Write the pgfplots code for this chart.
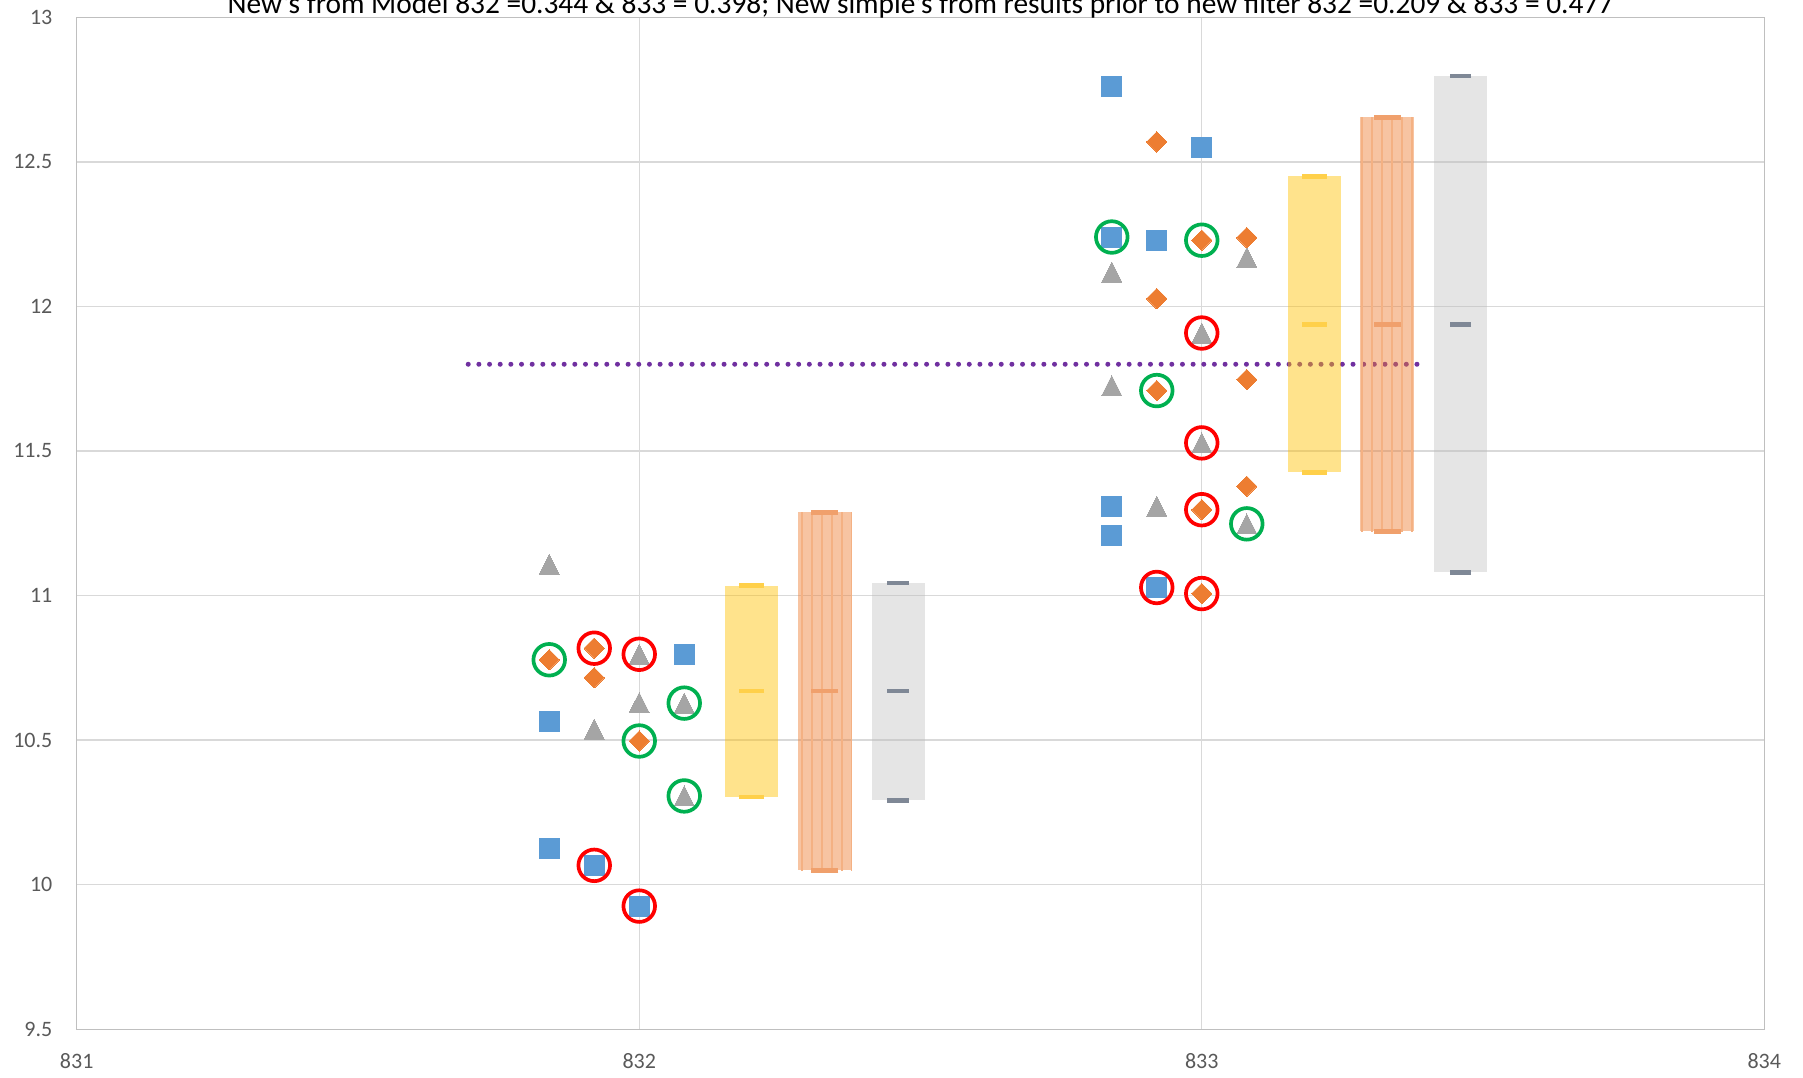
\documentclass[border=0pt]{standalone}
\usepackage{pgfplots}
\pgfplotsset{compat=1.18}
\usetikzlibrary{patterns.meta}
\usepackage{fontspec}
\setmainfont{Carlito}
\definecolor{sqblue}{HTML}{5B9BD5}
\definecolor{dmorange}{HTML}{ED7D31}
\definecolor{trgray}{HTML}{A5A5A5}
\definecolor{ringgreen}{HTML}{00B050}
\definecolor{ringred}{HTML}{FF0000}
\definecolor{dotpurple}{HTML}{7030A0}
\definecolor{barY}{HTML}{FFC000}
\definecolor{barO}{HTML}{ED7D31}
\definecolor{barG}{HTML}{BDBDBD}
\definecolor{capY}{HTML}{FFD04A}
\definecolor{capO}{HTML}{F0A06C}
\definecolor{capG}{HTML}{7F8896}
\definecolor{axisgray}{HTML}{BFBFBF}
\definecolor{gridgray}{HTML}{D9D9D9}
\definecolor{ticktext}{HTML}{595959}
\begin{document}
\begin{tikzpicture}
\begin{axis}[
  scale only axis, width=843.8pt, height=506pt,
  xmin=831, xmax=834, ymin=9.5, ymax=13,
  xtick={831,832,833,834},
  ytick={9.5,10,10.5,11,11.5,12,12.5,13},
  major tick length=0pt,
  grid=major,
  major grid style={draw=gridgray, line width=0.65pt},
  axis line style={draw=axisgray, line width=0.65pt},
  tick label style={font=\fontsize{11}{13}\selectfont, text=ticktext},
  /pgf/number format/assume math mode=true,
  xticklabel style={anchor=north, inner sep=0pt, yshift=-12pt},
  yticklabel style={anchor=east, inner sep=0pt, xshift=-12pt},
  clip=false,
]
% dotted reference line
\addplot[draw=dotpurple, line width=2.5pt, line cap=round, dash pattern=on 0pt off 5.33pt] coordinates {(831.696,11.8) (833.39,11.8)};
% floating bars
\addplot[draw=none, fill=barY, fill opacity=0.45] coordinates {(832.153,10.303) (832.247,10.303) (832.247,11.034) (832.153,11.034)};
\addplot[draw=none, fill=barO, fill opacity=0.45] coordinates {(832.282,10.050) (832.378,10.050) (832.378,11.288) (832.282,11.288)};
\addplot[draw=none, pattern={Lines[angle=90, distance=5pt, line width=0.6pt, xshift=1pt]}, pattern color=barO!60] coordinates {(832.282,10.050) (832.378,10.050) (832.378,11.288) (832.282,11.288)};
\addplot[draw=none, fill=barG, fill opacity=0.40] coordinates {(832.413,10.292) (832.508,10.292) (832.508,11.043) (832.413,11.043)};
\addplot[draw=none, fill=barY, fill opacity=0.45] coordinates {(833.153,11.426) (833.248,11.426) (833.248,12.450) (833.153,12.450)};
\addplot[draw=none, fill=barO, fill opacity=0.45] coordinates {(833.282,11.222) (833.377,11.222) (833.377,12.654) (833.282,12.654)};
\addplot[draw=none, pattern={Lines[angle=90, distance=5pt, line width=0.6pt, xshift=1pt]}, pattern color=barO!60] coordinates {(833.282,11.222) (833.377,11.222) (833.377,12.654) (833.282,12.654)};
\addplot[draw=none, fill=barG, fill opacity=0.40] coordinates {(833.412,11.080) (833.507,11.080) (833.507,12.797) (833.412,12.797)};
% caps
\addplot[only marks, mark=-, mark size=6.15pt, mark options={line width=2.3pt, draw=capY}] coordinates {(832.2,10.303) (832.2,10.670) (832.2,11.034) (833.2,11.426) (833.2,11.938) (833.2,12.450)};
\addplot[only marks, mark=-, mark size=6.8pt, mark options={line width=2.3pt, draw=capO}] coordinates {(832.33,10.050) (832.33,10.670) (832.33,11.288) (833.33,11.222) (833.33,11.938) (833.33,12.654)};
\addplot[only marks, mark=-, mark size=5.3pt, mark options={line width=2.3pt, draw=capG}] coordinates {(832.46,10.292) (832.46,10.670) (832.46,11.043) (833.46,11.080) (833.46,11.938) (833.46,12.797)};
% blue squares
\addplot[only marks, mark=square*, mark size=5pt, mark options={draw=sqblue, fill=sqblue, line width=0pt}] coordinates {
(831.84,10.566) (831.84,10.126) (831.92,10.067) (832.0,9.926) (832.08,10.797)
(832.84,12.759) (832.84,12.240) (832.84,11.309) (832.84,11.209) (832.92,12.229) (832.92,11.028) (833.0,12.549)};
% gray triangles
\addplot[only marks, mark=triangle*, mark size=5.8pt, mark options={draw=trgray, fill=trgray, line width=0pt, yshift=-1.67pt, yscale=1.15}] coordinates {
(831.84,11.108) (831.92,10.538) (832.0,10.797) (832.0,10.630) (832.08,10.628) (832.08,10.307)
(832.84,12.119) (832.84,11.726) (832.92,11.309) (833.0,11.908) (833.0,11.528) (833.08,12.169) (833.08,11.248)};
% orange diamonds
\addplot[only marks, mark=square*, mark size=3.6pt, mark options={draw=dmorange, fill=dmorange, line width=0pt, rotate=45}] coordinates {
(831.84,10.778) (831.92,10.818) (831.92,10.716) (832.0,10.497)
(832.92,12.569) (832.92,12.027) (832.92,11.709) (833.0,12.229) (833.0,11.297) (833.0,11.007)
(833.08,12.238) (833.08,11.747) (833.08,11.378)};
% green rings
\addplot[only marks, mark=o, mark size=7.9pt, mark options={draw=ringgreen, line width=1.85pt}] coordinates {
(831.84,10.778) (832.0,10.497) (832.08,10.628) (832.08,10.307)
(832.84,12.240) (833.0,12.229) (832.92,11.709) (833.08,11.248)};
% red rings
\addplot[only marks, mark=o, mark size=7.9pt, mark options={draw=ringred, line width=1.85pt}] coordinates {
(831.92,10.818) (832.0,10.797) (831.92,10.067) (832.0,9.926)
(833.0,11.908) (833.0,11.528) (833.0,11.297) (832.92,11.028) (833.0,11.007)};
\node[anchor=base, font=\fontsize{14.7}{17}\selectfont, text=black] at (rel axis cs:0.5,1) [yshift=1.65pt] {New's from Model 832 =0.344 \& 833 = 0.398; New simple's from results prior to new filter 832 =0.209 \& 833 = 0.477};
\end{axis}
\pgfresetboundingbox
\path[use as bounding box] ([xshift=-38.35pt, yshift=-24.35pt]current axis.south west) rectangle ([xshift=19.35pt, yshift=8.65pt]current axis.north east);
\end{tikzpicture}
\end{document}
